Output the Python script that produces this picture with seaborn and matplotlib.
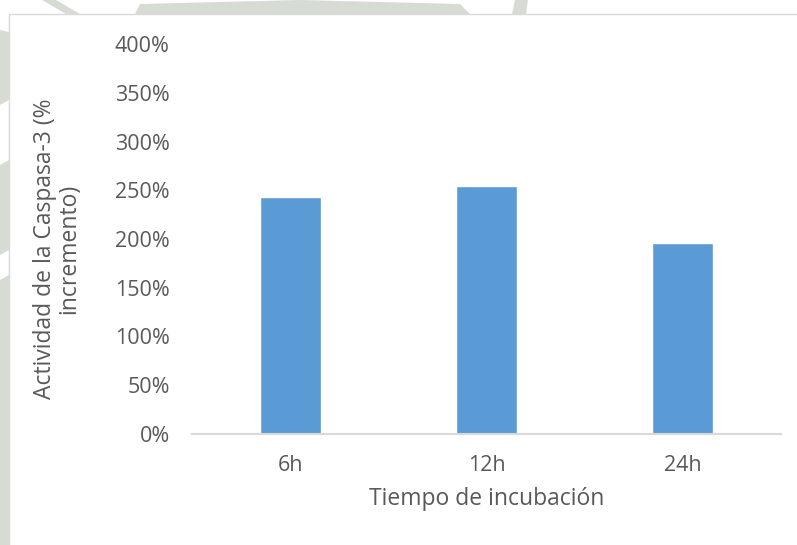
import matplotlib
matplotlib.use("Agg")
import matplotlib.pyplot as plt
from matplotlib.patches import Polygon, Rectangle
import seaborn as sns
import pandas as pd

# Caspase-3 activity (% increase) by incubation time
categories = ["6h", "12h", "24h"]
activity = [243, 254, 196]
y_ticks = [0, 50, 100, 150, 200, 250, 300, 350, 400]
y_tick_labels = [f"{v}%" for v in y_ticks]

W, H = 797, 545
sns.set_style("white")
plt.rcParams["font.family"] = ["Open Sans", "DejaVu Sans"]

fig = plt.figure(figsize=(W / 100, H / 100), dpi=100)
fig.patch.set_facecolor("white")


def px(x, y):
    return (x / W, 1 - y / H)


# pale seal watermark showing around the chart frame
wm = "#d6dcd3"
shapes = [
    [(42, 0), (56, 0), (80, 14), (66, 14)],
    [(140, 4), (300, 0), (460, 4), (470, 14), (135, 14)],
    [(515, 0), (528, 0), (526, 14), (512, 14)],
    [(0, 30), (9, 32), (9, 100), (0, 105)],
    [(0, 165), (9, 160), (9, 250), (0, 255)],
    [(0, 280), (9, 275), (9, 545), (0, 545)],
]
for pts in shapes:
    fig.patches.append(Polygon([px(*p) for p in pts], closed=True,
                               transform=fig.transFigure, facecolor=wm,
                               edgecolor="none", zorder=0))

# chart frame
fig.patches.append(Rectangle(px(9, 560), (W + 10) / W, (560 - 14) / H,
                             transform=fig.transFigure, facecolor="white",
                             edgecolor="#d9d9d9", linewidth=1.0, zorder=1))

ax = fig.add_axes([192 / W, 1 - 434 / H, (781 - 192) / W, (434 - 44) / H])
ax.set_facecolor("none")
ax.set_zorder(2)

df = pd.DataFrame({"tiempo": categories, "actividad": activity})
sns.barplot(data=df, x="tiempo", y="actividad", color="#5B9BD5",
            saturation=1, width=0.31, ax=ax)

ax.set_xlim(-0.5, 2.5)
ax.set_ylim(0, 400)
ax.set_yticks(y_ticks)
ax.set_yticklabels(y_tick_labels)

tick_col = "#595959"
ax.tick_params(axis="both", length=0, labelsize=15.5, colors=tick_col)
ax.tick_params(axis="y", pad=16)
ax.tick_params(axis="x", pad=15)

for s in ("top", "right", "left"):
    ax.spines[s].set_visible(False)
ax.spines["bottom"].set_color("#d9d9d9")
ax.spines["bottom"].set_linewidth(1.5)

ax.set_xlabel("Tiempo de incubación", fontsize=16.5, color=tick_col)
ax.xaxis.set_label_coords(0.5, -0.167)
ax.xaxis.label.set_va("center")

ax.set_ylabel("Actividad de la Caspasa-3 (%\nincremento)", fontsize=16.5,
              color=tick_col, linespacing=0.98, ha="center")
ax.yaxis.set_label_coords(-0.229, 0.474)
ax.yaxis.label.set_va("center")

fig.savefig("out.png", dpi=100, facecolor=fig.get_facecolor())
